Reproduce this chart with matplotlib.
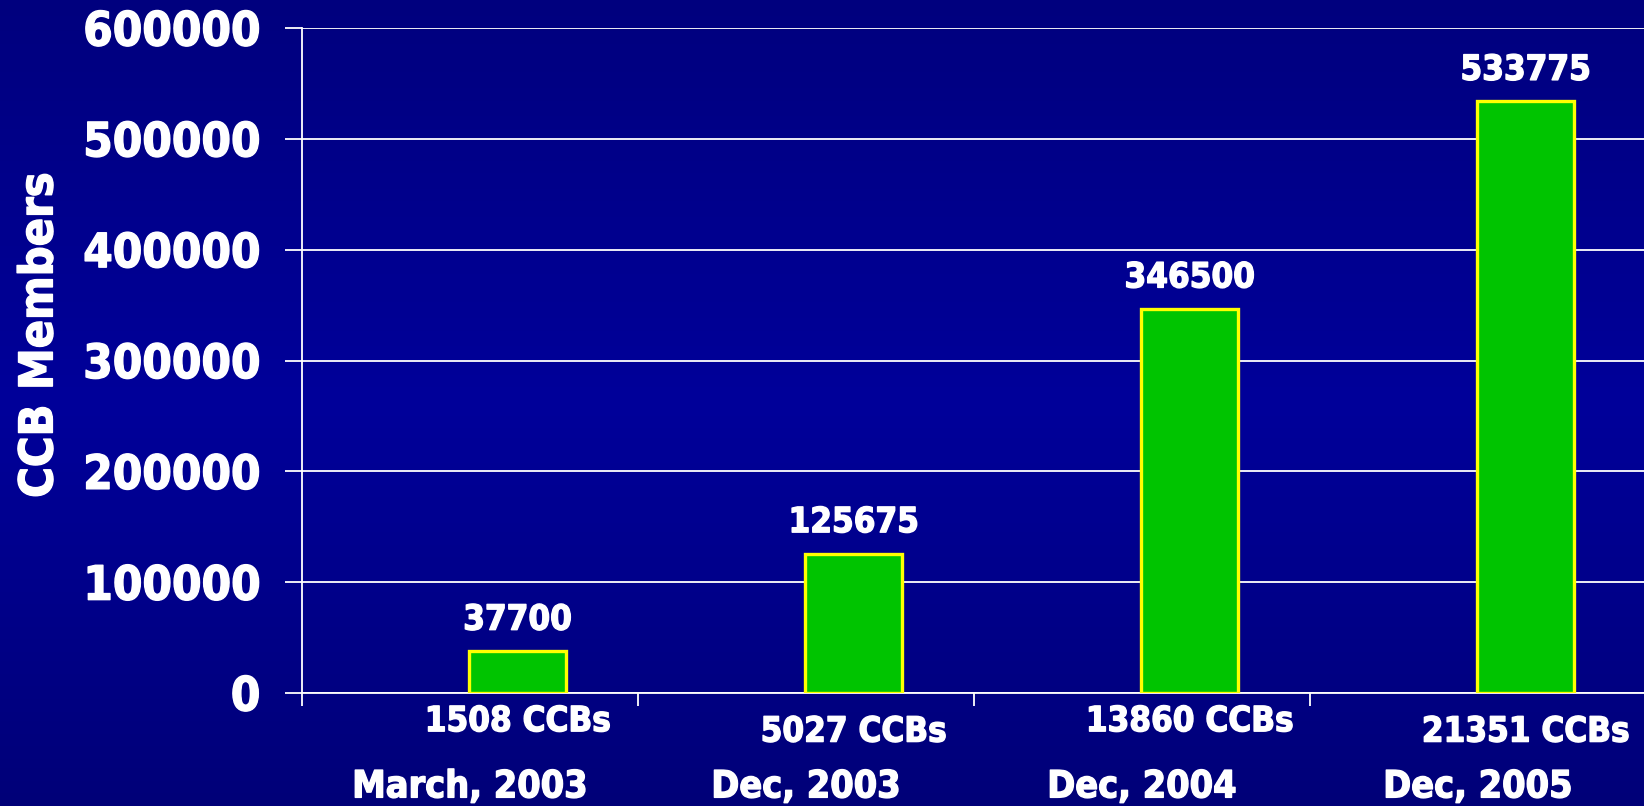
import numpy as np
import matplotlib
matplotlib.use("Agg")
import matplotlib.pyplot as plt
import matplotlib.patheffects as pe
from matplotlib.colors import LinearSegmentedColormap

# ---- data ----
dates = ["March, 2003", "Dec, 2003", "Dec, 2004", "Dec, 2005"]
members = [37700, 125675, 346500, 533775]
ccb_labels = ["1508 CCBs", "5027 CCBs", "13860 CCBs", "21351 CCBs"]
y_ticks = [0, 100000, 200000, 300000, 400000, 500000, 600000]

W, H = 1644, 806
fig = plt.figure(figsize=(W / 100, H / 100), dpi=100)

STROKE = [pe.withStroke(linewidth=1.0, foreground="white")]
FONT = dict(family="DejaVu Sans", stretch="condensed", weight="bold", color="white",
            path_effects=STROKE)

# background gradient
bg = fig.add_axes([0, 0, 1, 1], zorder=0)
cmap = LinearSegmentedColormap.from_list(
    "bgblue", [(0.0, "#00007E"), (0.5, "#00009A"), (1.0, "#000078")])
grad = np.linspace(0, 1, 256).reshape(-1, 1)
bg.imshow(grad, aspect="auto", cmap=cmap, extent=[0, 1, 0, 1], origin="upper")
bg.set_axis_off()

left, right = 302, 1646
top, bottom = 28, 693
ax = fig.add_axes([left / W, 1 - bottom / H, (right - left) / W, (bottom - top) / H], zorder=1)
ax.set_facecolor("none")

x = np.arange(len(dates))
bar_off = 0.142
bar_w = 0.29
bx = x + bar_off
ax.bar(bx, members, width=bar_w, color="#00C400", edgecolor="#FFFF00", linewidth=2.4, zorder=3)

ax.set_xlim(-0.5, 3.5)
ax.set_ylim(0, 600000)
ax.set_yticks(y_ticks)
ax.set_yticklabels([str(v) for v in y_ticks])
ax.yaxis.grid(True, color="white", linewidth=1.3, zorder=1)
ax.set_axisbelow(True)

for s in ["top", "right"]:
    ax.spines[s].set_visible(False)
for s in ["left", "bottom"]:
    ax.spines[s].set_color("white")
    ax.spines[s].set_linewidth(1.3)

ax.tick_params(axis="y", direction="out", length=12, width=1.3, color="white", pad=18)
for lab in ax.get_yticklabels():
    lab.set(**FONT, fontsize=34)

ax.set_xticks(x)
ax.set_xticklabels(dates)
ax.set_xticks(np.arange(-0.5, 3.6, 1.0), minor=True)
ax.tick_params(axis="x", which="major", length=0, pad=55)
ax.tick_params(axis="x", which="minor", direction="out", length=9, width=1.3, color="white")
for lab in ax.get_xticklabels():
    lab.set(**FONT, fontsize=27)

ax.set_ylabel("CCB Members", va="center", **FONT, fontsize=33.5)
ax.yaxis.set_label_coords(-0.195, 0.538)

# value labels above bars
for xi, v in zip(bx, members):
    ax.annotate(str(v), xy=(xi, v), xytext=(0, 15.5), textcoords="offset points",
                ha="center", va="baseline", fontsize=25, **FONT)

# CCB count labels below axis (alternating heights)
offs = [-27.5, -35, -27.5, -35]
for xi, lab, o in zip(bx, ccb_labels, offs):
    ax.annotate(lab, xy=(xi, 0), xycoords=("data", "axes fraction"), xytext=(0, o),
                textcoords="offset points", ha="center", va="baseline",
                fontsize=25, annotation_clip=False, **FONT)

fig.savefig("out.png", dpi=100)
